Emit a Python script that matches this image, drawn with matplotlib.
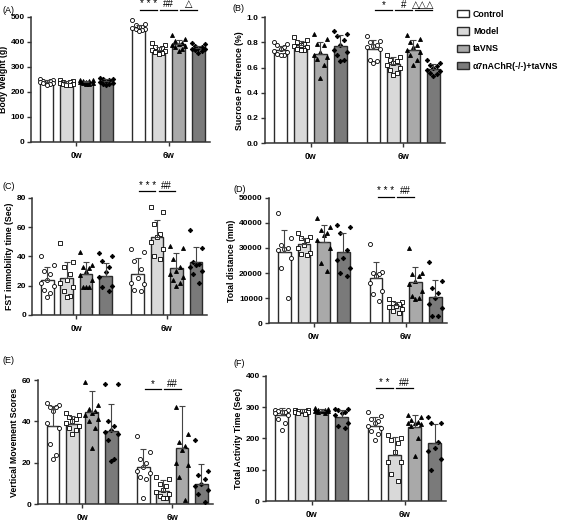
import matplotlib
matplotlib.use('Agg')
import matplotlib.pyplot as plt
from matplotlib.patches import Patch
import numpy as np

plt.rcParams['font.family'] = ['Liberation Sans', 'DejaVu Sans']

groups = ['Control', 'Model', 'taVNS', 'α7nAChR(-/-)+taVNS']
times = ['0w', '6w']
bar_colors = ['#ffffff', '#d9d9d9', '#a9a9a9', '#7a7a7a']
markers = ['o', 's', '^', 'D']
marker_fill = ['white', 'white', 'black', 'black']
marker_size = [2.9, 2.9, 2.9, 2.3]

# order: 0w Control, Model, taVNS, a7 | 6w Control, Model, taVNS, a7
bw_mean = [240, 236, 240, 242, 456, 368, 392, 376]
bw_sd = [7, 6, 5, 9, 11, 10, 14, 8]
bw_pts = [
    [250, 248, 245, 243, 240, 238, 236, 234, 232, 228],
    [246, 243, 240, 238, 236, 235, 233, 231, 229, 226],
    [248, 246, 244, 242, 240, 239, 237, 235, 233, 231],
    [256, 252, 250, 246, 243, 240, 237, 233, 230, 226],
    [487, 472, 465, 460, 457, 455, 452, 450, 446, 442],
    [395, 388, 380, 375, 370, 366, 362, 358, 354, 350],
    [428, 412, 402, 396, 392, 388, 384, 378, 370, 364],
    [396, 390, 385, 380, 376, 373, 370, 366, 362, 356],
]

sp_mean = [0.74, 0.78, 0.71, 0.77, 0.75, 0.63, 0.74, 0.59]
sp_sd = [0.03, 0.03, 0.09, 0.09, 0.07, 0.05, 0.08, 0.04]
sp_pts = [
    [0.80, 0.79, 0.78, 0.76, 0.75, 0.73, 0.72, 0.71, 0.70, 0.70],
    [0.84, 0.82, 0.80, 0.79, 0.78, 0.77, 0.76, 0.75, 0.74, 0.74],
    [0.87, 0.83, 0.79, 0.78, 0.72, 0.70, 0.68, 0.67, 0.62, 0.52],
    [0.89, 0.87, 0.85, 0.82, 0.78, 0.74, 0.72, 0.70, 0.66, 0.65],
    [0.85, 0.81, 0.80, 0.78, 0.77, 0.76, 0.75, 0.66, 0.65, 0.64],
    [0.70, 0.68, 0.66, 0.65, 0.64, 0.62, 0.60, 0.58, 0.56, 0.54],
    [0.86, 0.83, 0.80, 0.78, 0.76, 0.74, 0.72, 0.70, 0.66, 0.62],
    [0.66, 0.64, 0.62, 0.61, 0.60, 0.58, 0.57, 0.56, 0.55, 0.53],
]

fst_mean = [24, 25, 28, 26.5, 28, 53, 32, 36]
fst_sd = [9, 11, 8, 9, 11, 12, 10, 10.5]
fst_pts = [
    [40, 34, 30, 28, 24, 22, 20, 17, 15, 12],
    [49, 36, 33, 28, 24, 22, 19, 16, 13, 12],
    [43, 34, 33, 32, 30, 27, 24, 19, 19, 19],
    [42, 40, 37, 33, 29, 26, 20, 19, 16],
    [45, 43, 37, 31, 25, 22, 21, 17, 16],
    [74, 70, 62, 55, 53, 50, 45, 40, 38],
    [47, 46, 38, 33, 30, 28, 26, 24, 22, 20],
    [58, 46, 36, 35, 34, 33, 30, 28, 22],
]

td_mean = [28300, 31500, 32500, 28500, 18000, 7300, 16300, 10600]
td_sd = [9000, 2500, 6500, 7300, 6300, 1300, 6200, 6600]
td_pts = [
    [44000, 34000, 31000, 30000, 29500, 29000, 26000, 22000, 10000],
    [36000, 34500, 34000, 33000, 31000, 30000, 28000, 27500, 27000],
    [42000, 38500, 37000, 36000, 35000, 33000, 30000, 24000, 21000],
    [39000, 38500, 36000, 29000, 26000, 25000, 22000, 20000, 19000],
    [31500, 20500, 20000, 19500, 19000, 16000, 13000, 11500, 9000],
    [9500, 8500, 8000, 7500, 7000, 6500, 5500, 5000, 4000],
    [30000, 20000, 19500, 19000, 17000, 15500, 13000, 11000, 10000, 9500],
    [24500, 17000, 14000, 12000, 10000, 7500, 6000, 3000, 3000],
]

vm_mean = [37.8, 38.6, 44.6, 35.4, 17.9, 6.5, 27, 10]
vm_sd = [9.5, 4, 10, 13, 8.8, 5, 20.5, 9.5]
vm_pts = [
    [49, 48, 47, 47, 45, 39, 37, 29, 24, 22],
    [44, 43, 42, 41, 40, 39, 38, 37, 36, 34],
    [59, 48, 46, 45, 44, 43, 41, 40, 37, 27],
    [58, 58, 40, 38, 36, 35, 34, 31, 22, 21],
    [33, 25, 22, 20, 18, 16, 15, 13, 12, 3],
    [13, 12, 10, 9, 7, 6, 5, 4, 3, 3],
    [47, 34, 30, 28, 26, 20, 19, 13, 2],
    [31, 16, 14, 12, 10, 9, 7, 5, 1],
]

ta_mean = [276, 286, 289, 270, 241, 147, 236, 185]
ta_sd = [22, 7, 6, 22, 28, 58, 40, 62]
ta_pts = [
    [292, 290, 288, 285, 283, 280, 275, 262, 250, 228],
    [292, 290, 289, 288, 287, 285, 283, 281, 278],
    [296, 294, 292, 290, 289, 288, 287, 285, 280],
    [295, 293, 290, 285, 280, 275, 250, 240, 235],
    [285, 272, 262, 255, 248, 240, 235, 225, 215, 195],
    [211, 200, 195, 184, 156, 126, 124, 88, 64],
    [275, 268, 260, 252, 250, 248, 245, 240, 200, 145],
    [270, 250, 248, 190, 170, 160, 135, 100],
]

panels = [
    ('(A)', 'Body Weight (g)', bw_mean, bw_sd, bw_pts, (0, 500), [0, 100, 200, 300, 400, 500],
     ['* * *', '##', '△'], 528),
    ('(B)', 'Sucrose Preference (%)', sp_mean, sp_sd, sp_pts, (0, 1.0), [0, 0.2, 0.4, 0.6, 0.8, 1.0],
     ['*', '#', '△△△'], 1.055),
    ('(C)', 'FST immobility time (Sec)', fst_mean, fst_sd, fst_pts, (0, 80), [0, 20, 40, 60, 80],
     ['* * *', '##'], 84.5),
    ('(D)', 'Total distance (mm)', td_mean, td_sd, td_pts, (0, 50000), [0, 10000, 20000, 30000, 40000, 50000],
     ['* * *', '##'], 50300),
    ('(E)', 'Vertical Movement Scores', vm_mean, vm_sd, vm_pts, (0, 60), [0, 20, 40, 60],
     ['*', '##'], 55.5),
    ('(F)', 'Total Activity Time (Sec)', ta_mean, ta_sd, ta_pts, (0, 400), [0, 100, 200, 300, 400],
     ['* *', '##'], 360),
]

# axes boxes in figure fractions [left, bottom, width, height]
boxes = [
    [0.055, 0.728, 0.317, 0.240],
    [0.469, 0.726, 0.319, 0.241],
    [0.057, 0.397, 0.310, 0.224],
    [0.476, 0.381, 0.315, 0.240],
    [0.067, 0.034, 0.310, 0.238],
    [0.471, 0.040, 0.319, 0.240],
]
label_pos = [(0.004, 0.988), (0.411, 0.992), (0.004, 0.652), (0.414, 0.645), (0.004, 0.318), (0.414, 0.312)]

step = 0.215
width = 0.14
jit = [-0.5, 0.5, -0.25, 0.25, 0.0, -0.5, 0.5, -0.25, 0.25, 0.0]
edge = '#2b2b2b'

fig = plt.figure(figsize=(5.65, 5.22), dpi=100)

for p, (tag, ylab, mean, sd, pts, ylim, yticks, sig, sig_y) in enumerate(panels):
    ax = fig.add_axes(boxes[p])
    for t in range(2):
        for g in range(4):
            k = t * 4 + g
            x = t + (g - 1.5) * step
            ax.bar(x, mean[k], width=width, color=bar_colors[g], edgecolor=edge, linewidth=1.0, zorder=2)
            vals = pts[k]
            xs = [x + jit[i % len(jit)] * width for i in range(len(vals))]
            ax.plot(xs, vals, linestyle='none', marker=markers[g], markersize=marker_size[g],
                    markerfacecolor=marker_fill[g], markeredgecolor='black',
                    markeredgewidth=0.6, zorder=3)
            ax.errorbar(x, mean[k], yerr=[[0], [sd[k]]], fmt='none', ecolor='#444444',
                        elinewidth=0.8, capsize=2.5, capthick=0.8, zorder=4)
    # significance marks at 6w
    for i, s in enumerate(sig):
        cx = 1 + (i - 1) * step
        half = 0.42 * step
        ax.plot([cx - half, cx + half], [sig_y, sig_y], color='black', lw=0.9, clip_on=False)
        ax.annotate(s, xy=(cx, sig_y), xytext=(0, 0.5), textcoords='offset points',
                    ha='center', va='bottom', fontsize=7, annotation_clip=False)

    ax.set_xlim(-0.49, 1.45)
    ax.set_ylim(*ylim)
    ax.set_yticks(yticks)
    if p == 1:
        ax.set_yticklabels(['%.1f' % v for v in yticks])
    ax.set_xticks([0, 1])
    ax.set_xticklabels(times, fontweight='bold', fontsize=6.3)
    ax.set_ylabel(ylab, fontsize=6.3, fontweight='bold', labelpad=2)
    for side in ['top', 'right']:
        ax.spines[side].set_visible(False)
    for side in ['left', 'bottom']:
        ax.spines[side].set_linewidth(1.1)
        ax.spines[side].set_color('#333333')
    ax.tick_params(axis='y', labelsize=6, width=1.0, length=3, color='#333333', pad=1.5)
    ax.tick_params(axis='x', width=1.0, length=3, color='#333333', pad=3.5)
    for lab in ax.get_yticklabels():
        lab.set_fontweight('bold')
    fig.text(label_pos[p][0], label_pos[p][1], tag, fontsize=6.5, va='top', ha='left')

handles = [Patch(facecolor=bar_colors[g], edgecolor=edge, linewidth=1.0) for g in range(4)]
fig.legend(handles, groups, loc='upper left', bbox_to_anchor=(0.797, 0.995), frameon=False,
           prop={'size': 6.3, 'weight': 'bold'}, handlelength=1.3, handleheight=0.9,
           handletextpad=0.5, labelspacing=0.95, borderpad=0.3)

fig.savefig('out.png', dpi=100)
